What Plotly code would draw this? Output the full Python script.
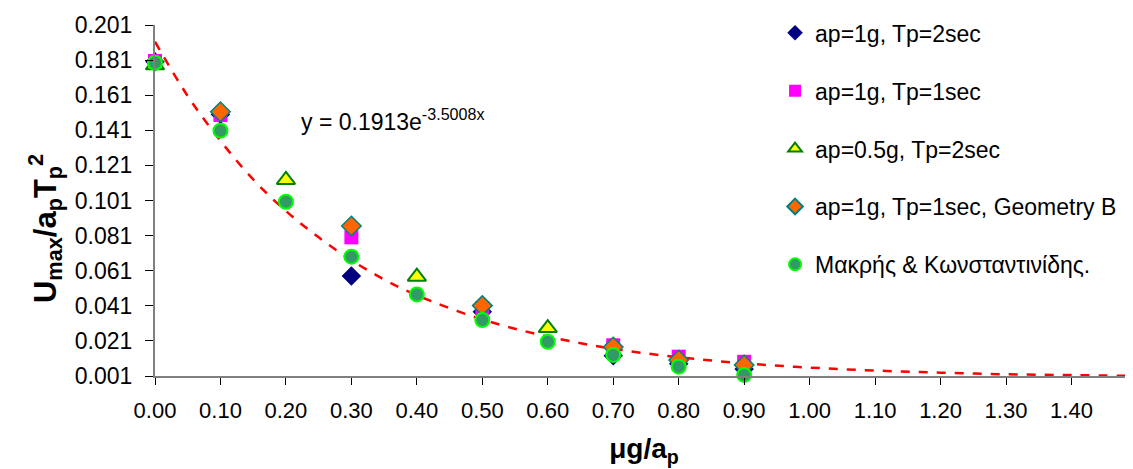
import plotly.graph_objects as go

# ---- data ----
s1_x = [0.0, 0.1, 0.3, 0.5, 0.7, 0.8, 0.9]
s1_y = [0.180, 0.150, 0.058, 0.0376, 0.0125, 0.0080, 0.0050]

s2_x = [0.0, 0.1, 0.3, 0.5, 0.7, 0.8, 0.9]
s2_y = [0.1805, 0.1497, 0.0800, 0.0397, 0.0185, 0.0120, 0.0091]

s3_x = [0.0, 0.2, 0.4, 0.6, 1.2, 1.4]
s3_y = [0.1780, 0.1127, 0.0576, 0.0283, 0.0006, 0.0000]

s4_x = [0.1, 0.3, 0.5, 0.7, 0.8, 0.9]
s4_y = [0.1516, 0.0865, 0.0411, 0.0175, 0.0101, 0.0073]

s5_x = [0.0, 0.1, 0.2, 0.3, 0.4, 0.5, 0.6, 0.7, 0.8, 0.9]
s5_y = [0.1795, 0.1408, 0.1003, 0.0690, 0.0475, 0.0329, 0.0205, 0.0130, 0.0063, 0.0016]

fit_x = [0.0, 0.05, 0.1, 0.15, 0.2, 0.25, 0.3, 0.35, 0.4, 0.5, 0.6, 0.7, 0.8, 0.9, 1.0, 1.1, 1.2, 1.3, 1.4, 1.5]
fit_y = [0.1915, 0.1605, 0.1350, 0.1130, 0.0950, 0.0800, 0.0670, 0.0560, 0.0470, 0.0332, 0.0235, 0.0165, 0.0117, 0.0082, 0.0058, 0.0041, 0.0029, 0.0020, 0.0015, 0.0010]

names = ["ap=1g, Tp=2sec", "ap=1g, Tp=1sec", "ap=0.5g, Tp=2sec",
         "ap=1g, Tp=1sec, Geometry B", "Μακρής & Κωνσταντινίδης."]

x_ticks = [0.0, 0.1, 0.2, 0.3, 0.4, 0.5, 0.6, 0.7, 0.8, 0.9, 1.0, 1.1, 1.2, 1.3, 1.4]
y_ticks = [0.001, 0.021, 0.041, 0.061, 0.081, 0.101, 0.121, 0.141, 0.161, 0.181, 0.201]

FONT = "Arial, Liberation Sans, sans-serif"

fig = go.Figure()

fig.add_trace(go.Scatter(x=fit_x, y=fit_y, mode="lines", showlegend=False,
                         line=dict(color="#FF0000", width=2.5, dash="dash", shape="spline"),
                         cliponaxis=False))

fig.add_trace(go.Scatter(x=s1_x, y=s1_y, mode="markers", name=names[0], legendgroup="a",
                         marker=dict(symbol="diamond", size=15, color="#000080",
                                     line=dict(width=0)), cliponaxis=False))
fig.add_trace(go.Scatter(x=s2_x, y=s2_y, mode="markers", name=names[1], legendgroup="b",
                         marker=dict(symbol="square", size=14, color="#FF00FF",
                                     line=dict(width=0)), cliponaxis=False))
fig.add_trace(go.Scatter(x=s3_x, y=s3_y, mode="markers", name=names[2], legendgroup="c",
                         marker=dict(symbol="triangle-up", size=16, color="#FFFF00",
                                     line=dict(width=2, color="#008000")), cliponaxis=False))
fig.add_trace(go.Scatter(x=s4_x, y=s4_y, mode="markers", name=names[3], legendgroup="d",
                         marker=dict(symbol="diamond", size=15, color="#FF6600",
                                     line=dict(width=1.5, color="#008080")), cliponaxis=False))
fig.add_trace(go.Scatter(x=s5_x, y=s5_y, mode="markers", name=names[4], legendgroup="e",
                         marker=dict(symbol="circle", size=14, color="#339966",
                                     line=dict(width=2, color="#00FF00")), cliponaxis=False))

# trendline equation
fig.add_annotation(x=0.2215, y=0.1469, xref="x", yref="y", xanchor="left", yanchor="middle",
                   text="y = 0.1913e<sup>-3.5008x</sup>", showarrow=False, borderpad=0,
                   font=dict(family=FONT, size=23, color="#000000"))

# y-axis title (placed like the reference)
fig.add_annotation(x=-0.112, y=0.42, xref="paper", yref="paper", xanchor="center", yanchor="middle",
                   text="<b>U<sub>max</sub>/a<sub>p</sub>T<sub>p</sub><sup>2</sup></b>",
                   textangle=-90, showarrow=False,
                   font=dict(family=FONT, size=31, color="#000000"))

fig.update_layout(
    width=1125, height=461,
    margin=dict(l=147, r=0, t=17, b=93, autoexpand=False),
    paper_bgcolor="#FFFFFF", plot_bgcolor="#FFFFFF",
    font=dict(family=FONT, color="#000000"),
    showlegend=True,
    legend=dict(x=0.634, y=1.039, xanchor="left", yanchor="top",
                bgcolor="rgba(0,0,0,0)", font=dict(family=FONT, size=23),
                tracegroupgap=25, itemsizing="constant", itemwidth=30, maxheight=460),
    xaxis=dict(range=[0, 1.494], tickvals=x_ticks, ticktext=[f"{v:.2f}" for v in x_ticks],
               showgrid=False, zeroline=False, showline=True, linecolor="#808080", linewidth=2,
               ticks="outside", ticklen=7, tickcolor="#000000", tickwidth=1, automargin=False,
               ticklabelstandoff=7,
               tickfont=dict(family=FONT, size=22),
               title=dict(text="<b>μg/a<sub>p</sub></b>", font=dict(family=FONT, size=28), standoff=16)),
    yaxis=dict(range=[0.001, 0.201], tickvals=y_ticks, ticktext=[f"{v:.3f}" for v in y_ticks],
               showgrid=False, zeroline=False, showline=True, linecolor="#808080", linewidth=2,
               ticks="outside", ticklen=8, tickcolor="#000000", tickwidth=1, automargin=False,
               ticklabelstandoff=8,
               tickfont=dict(family=FONT, size=23)),
)

fig.write_html("out.html")
